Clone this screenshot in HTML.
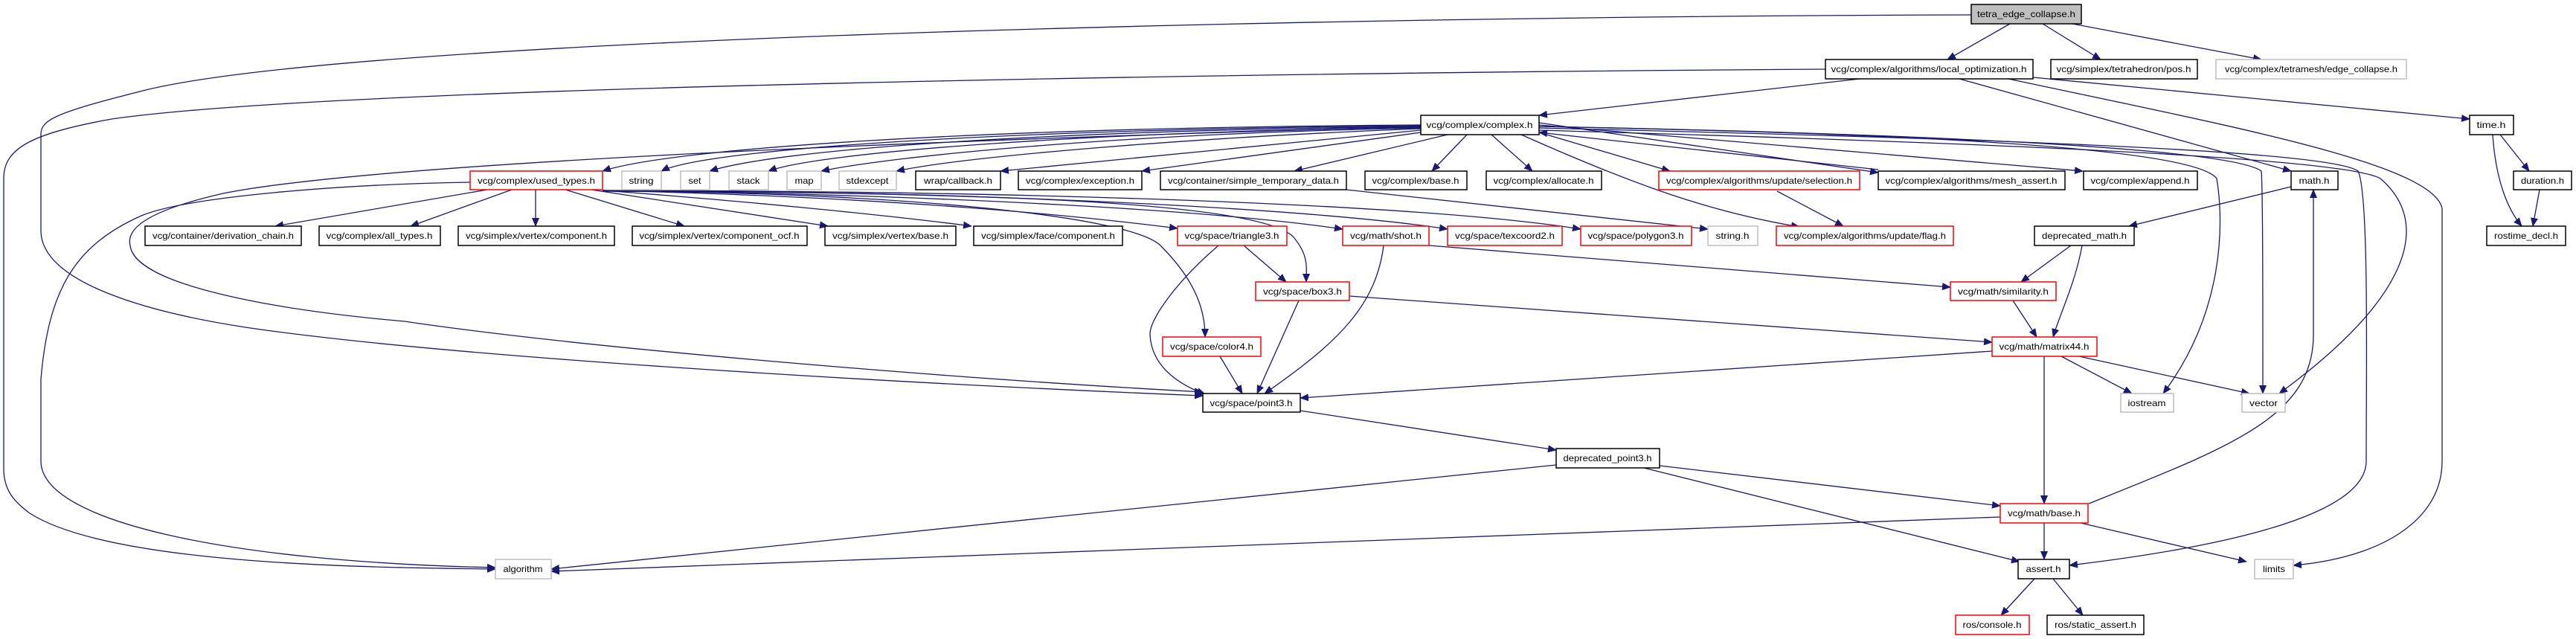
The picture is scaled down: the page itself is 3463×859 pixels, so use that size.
<!DOCTYPE html>
<html><head><meta charset="utf-8"><style>
html,body{margin:0;padding:0;background:#fff;}
svg{display:block;}
text{font-family:"Liberation Sans",sans-serif;font-size:12px;fill:#000;}
</style></head><body>
<svg width="3463" height="859" viewBox="0 0 3463 859" xmlns="http://www.w3.org/2000/svg">
<defs>
<marker id="a" markerUnits="userSpaceOnUse" markerWidth="12" markerHeight="10" refX="11" refY="5" orient="auto">
<path d="M0,0 L12,5 L0,10 z" fill="#191970"/>
</marker>
</defs>
<g fill="none" stroke="#191970" stroke-width="1.3" marker-end="url(#a)">
<path d="M2702,32 L2618,80"/>
<path d="M2746,32 L2824,80"/>
<path d="M2786,32 L3040,80"/>
<path d="M2650,20 C1800,22 500,50 200,120 C80,150 55,160 55,180 L55,310 C55,380 200,420 330,440 C600,480 1200,515 1617,532"/>
<path d="M2454,93 C2000,96 500,110 150,160 C40,180 5,200 5,240 L5,630 C5,660 20,675 40,690 C150,760 500,763 666,765"/>
<path d="M632,245 C450,248 250,265 190,290 C100,330 65,390 55,510 L55,620 C55,700 300,755 666,763"/>
<path d="M1910,170 C1200,190 500,220 300,260 C190,285 170,310 175,330 C180,380 350,415 544,432 C800,470 1300,510 1617,527"/>
<path d="M810,257 C1200,258 1520,290 1560,330 C1610,380 1620,420 1620,453"/>
<path d="M810,257 C1300,258 1700,270 1740,320 C1760,345 1756,360 1756,379"/>
<path d="M1638,330 C1580,380 1545,430 1546,450 C1548,490 1580,515 1620,530"/>
<path d="M1672,330 L1729,379"/>
<path d="M1746,404 L1690,529"/>
<path d="M1860,330 C1850,410 1800,460 1700,529"/>
<path d="M1640,479 L1670,529"/>
<path d="M2678,472 L1748,535"/>
<path d="M1748,552 L2092,605"/>
<path d="M2092,625 L741,765"/>
<path d="M2689,695 L741,768"/>
<path d="M2231,626 L2689,680"/>
<path d="M2210,629 L2715,755"/>
<path d="M1814,398 L2678,460"/>
<path d="M1921,330 L2622,386"/>
<path d="M2706,404 L2738,453"/>
<path d="M2784,330 L2717,379"/>
<path d="M2799,330 C2790,380 2770,420 2760,453"/>
<path d="M3080,251 L2862,304"/>
<path d="M2808,677 C3000,600 3110,560 3110,450 L3110,255"/>
<path d="M2748,479 L2748,677"/>
<path d="M2771,479 L2866,529"/>
<path d="M2795,479 L3024,529"/>
<path d="M2069,170 C2600,180 2950,200 2980,240 C2990,300 2990,420 2908,529"/>
<path d="M2069,170 C2600,180 3000,200 3040,230 C3042,260 3042,400 3042,529"/>
<path d="M2069,172 C2600,185 3130,200 3170,230 C3185,260 3181,500 3181,620 C3181,700 2950,740 2782,760"/>
<path d="M2700,106 C3000,170 3270,220 3283,280 L3283,620 C3283,700 3200,750 3083,760"/>
<path d="M2069,175 C2600,190 3150,210 3200,240 C3270,300 3240,400 3064,529"/>
<path d="M2500,106 L2069,155"/>
<path d="M2634,106 L3080,230"/>
<path d="M2733,104 L3320,160"/>
<path d="M3361,181 L3400,230"/>
<path d="M3351,181 C3355,240 3370,280 3390,304"/>
<path d="M3414,255 L3405,304"/>
<path d="M2735,778 L2690,827"/>
<path d="M2760,778 L2800,827"/>
<path d="M2748,703 L2748,752"/>
<path d="M2797,703 L3020,755"/>
<path d="M2389,257 L2478,304"/>
<path d="M2045,181 C2200,250 2300,285 2419,305"/>
<path d="M1810,255 L2296,308"/>
<path d="M655,255 L370,304"/>
<path d="M688,255 L552,304"/>
<path d="M720,255 L720,304"/>
<path d="M760,255 L920,304"/>
<path d="M795,255 L1113,304"/>
<path d="M810,256 C1000,270 1200,290 1306,304"/>
<path d="M810,256 C1200,265 1450,290 1583,307"/>
<path d="M810,256 C1300,262 1650,285 1805,308"/>
<path d="M810,256 C1400,258 1800,285 1946,308"/>
<path d="M810,256 C1500,257 1950,280 2125,308"/>
<path d="M2069,165 L2525,232"/>
<path d="M2525,228 L2069,178"/>
<path d="M2069,168 L2800,230"/>
<path d="M2069,178 L2245,230"/>
<path d="M2005,181 L2060,230"/>
<path d="M1972,181 L1925,230"/>
<path d="M1946,181 L1740,230"/>
<path d="M1910,178 L1535,230"/>
<path d="M1910,175 L1345,230"/>
<path d="M1910,173 C1600,185 1300,210 1205,230"/>
<path d="M1910,172 C1500,180 1200,210 1104,230"/>
<path d="M1910,171 C1450,178 1100,205 1033,230"/>
<path d="M1910,170 C1400,176 1050,200 954,230"/>
<path d="M1910,169 C1350,174 950,200 889,230"/>
<path d="M1910,168 C1300,172 900,200 810,230"/>
</g>
<g stroke-width="1.5">
<!-- nodes: rect + text -->
<rect x="2650" y="6" width="148" height="26" fill="#bfbfbf" stroke="#000"/><text x="2724" y="23" text-anchor="middle" textLength="132" lengthAdjust="spacingAndGlyphs">tetra_edge_collapse.h</text>
<rect x="2454" y="80" width="279" height="26" fill="#fff" stroke="#000"/><text x="2593" y="97" text-anchor="middle" textLength="263" lengthAdjust="spacingAndGlyphs">vcg/complex/algorithms/local_optimization.h</text>
<rect x="2757" y="80" width="197" height="26" fill="#fff" stroke="#000"/><text x="2855" y="97" text-anchor="middle" textLength="181" lengthAdjust="spacingAndGlyphs">vcg/simplex/tetrahedron/pos.h</text>
<rect x="2979" y="80" width="256" height="26" fill="#fff" stroke="#bfbfbf"/><text x="3107" y="97" text-anchor="middle" textLength="232" lengthAdjust="spacingAndGlyphs">vcg/complex/tetramesh/edge_collapse.h</text>
<rect x="1910" y="155" width="159" height="26" fill="#fff" stroke="#000"/><text x="1989" y="172" text-anchor="middle" textLength="143" lengthAdjust="spacingAndGlyphs">vcg/complex/complex.h</text>
<rect x="3320" y="155" width="59" height="26" fill="#fff" stroke="#000"/><text x="3349" y="172" text-anchor="middle" textLength="39" lengthAdjust="spacingAndGlyphs">time.h</text>

<rect x="632" y="230" width="178" height="25" fill="#fff" stroke="#f00"/><text x="721" y="247" text-anchor="middle" textLength="158" lengthAdjust="spacingAndGlyphs">vcg/complex/used_types.h</text>
<rect x="836" y="230" width="53" height="25" fill="#fff" stroke="#bfbfbf"/><text x="862" y="247" text-anchor="middle" textLength="33" lengthAdjust="spacingAndGlyphs">string</text>
<rect x="915" y="230" width="39" height="25" fill="#fff" stroke="#bfbfbf"/><text x="934" y="247" text-anchor="middle" textLength="17" lengthAdjust="spacingAndGlyphs">set</text>
<rect x="980" y="230" width="53" height="25" fill="#fff" stroke="#bfbfbf"/><text x="1006" y="247" text-anchor="middle" textLength="31" lengthAdjust="spacingAndGlyphs">stack</text>
<rect x="1058" y="230" width="46" height="25" fill="#fff" stroke="#bfbfbf"/><text x="1081" y="247" text-anchor="middle" textLength="25" lengthAdjust="spacingAndGlyphs">map</text>
<rect x="1128" y="230" width="77" height="25" fill="#fff" stroke="#bfbfbf"/><text x="1166" y="247" text-anchor="middle" textLength="57" lengthAdjust="spacingAndGlyphs">stdexcept</text>
<rect x="1231" y="230" width="114" height="25" fill="#fff" stroke="#000"/><text x="1288" y="247" text-anchor="middle" textLength="92" lengthAdjust="spacingAndGlyphs">wrap/callback.h</text>
<rect x="1369" y="230" width="166" height="25" fill="#fff" stroke="#000"/><text x="1452" y="247" text-anchor="middle" textLength="146" lengthAdjust="spacingAndGlyphs">vcg/complex/exception.h</text>
<rect x="1560" y="230" width="250" height="25" fill="#fff" stroke="#000"/><text x="1685" y="247" text-anchor="middle" textLength="230" lengthAdjust="spacingAndGlyphs">vcg/container/simple_temporary_data.h</text>
<rect x="1835" y="230" width="137" height="25" fill="#fff" stroke="#000"/><text x="1903" y="247" text-anchor="middle" textLength="117" lengthAdjust="spacingAndGlyphs">vcg/complex/base.h</text>
<rect x="1998" y="230" width="155" height="25" fill="#fff" stroke="#000"/><text x="2075" y="247" text-anchor="middle" textLength="135" lengthAdjust="spacingAndGlyphs">vcg/complex/allocate.h</text>
<rect x="2230" y="230" width="270" height="25" fill="#fff" stroke="#f00"/><text x="2365" y="247" text-anchor="middle" textLength="250" lengthAdjust="spacingAndGlyphs">vcg/complex/algorithms/update/selection.h</text>
<rect x="2525" y="230" width="251" height="25" fill="#fff" stroke="#000"/><text x="2650" y="247" text-anchor="middle" textLength="231" lengthAdjust="spacingAndGlyphs">vcg/complex/algorithms/mesh_assert.h</text>
<rect x="2801" y="230" width="153" height="25" fill="#fff" stroke="#000"/><text x="2877" y="247" text-anchor="middle" textLength="133" lengthAdjust="spacingAndGlyphs">vcg/complex/append.h</text>
<rect x="3080" y="230" width="63" height="25" fill="#fff" stroke="#000"/><text x="3111" y="247" text-anchor="middle" textLength="41" lengthAdjust="spacingAndGlyphs">math.h</text>
<rect x="3379" y="230" width="78" height="25" fill="#fff" stroke="#000"/><text x="3418" y="247" text-anchor="middle" textLength="58" lengthAdjust="spacingAndGlyphs">duration.h</text>

<rect x="195" y="304" width="210" height="26" fill="#fff" stroke="#000"/><text x="300" y="321" text-anchor="middle" textLength="190" lengthAdjust="spacingAndGlyphs">vcg/container/derivation_chain.h</text>
<rect x="429" y="304" width="163" height="26" fill="#fff" stroke="#000"/><text x="510" y="321" text-anchor="middle" textLength="143" lengthAdjust="spacingAndGlyphs">vcg/complex/all_types.h</text>
<rect x="616" y="304" width="210" height="26" fill="#fff" stroke="#000"/><text x="721" y="321" text-anchor="middle" textLength="190" lengthAdjust="spacingAndGlyphs">vcg/simplex/vertex/component.h</text>
<rect x="850" y="304" width="235" height="26" fill="#fff" stroke="#000"/><text x="967" y="321" text-anchor="middle" textLength="215" lengthAdjust="spacingAndGlyphs">vcg/simplex/vertex/component_ocf.h</text>
<rect x="1109" y="304" width="176" height="26" fill="#fff" stroke="#000"/><text x="1197" y="321" text-anchor="middle" textLength="156" lengthAdjust="spacingAndGlyphs">vcg/simplex/vertex/base.h</text>
<rect x="1309" y="304" width="200" height="26" fill="#fff" stroke="#000"/><text x="1409" y="321" text-anchor="middle" textLength="180" lengthAdjust="spacingAndGlyphs">vcg/simplex/face/component.h</text>
<rect x="1583" y="304" width="147" height="26" fill="#fff" stroke="#f00"/><text x="1656" y="321" text-anchor="middle" textLength="127" lengthAdjust="spacingAndGlyphs">vcg/space/triangle3.h</text>
<rect x="1805" y="304" width="116" height="26" fill="#fff" stroke="#f00"/><text x="1863" y="321" text-anchor="middle" textLength="96" lengthAdjust="spacingAndGlyphs">vcg/math/shot.h</text>
<rect x="1946" y="304" width="154" height="26" fill="#fff" stroke="#f00"/><text x="2023" y="321" text-anchor="middle" textLength="134" lengthAdjust="spacingAndGlyphs">vcg/space/texcoord2.h</text>
<rect x="2125" y="304" width="149" height="26" fill="#fff" stroke="#f00"/><text x="2199" y="321" text-anchor="middle" textLength="129" lengthAdjust="spacingAndGlyphs">vcg/space/polygon3.h</text>
<rect x="2296" y="304" width="67" height="26" fill="#fff" stroke="#bfbfbf"/><text x="2329" y="321" text-anchor="middle" textLength="45" lengthAdjust="spacingAndGlyphs">string.h</text>
<rect x="2388" y="304" width="238" height="26" fill="#fff" stroke="#f00"/><text x="2507" y="321" text-anchor="middle" textLength="218" lengthAdjust="spacingAndGlyphs">vcg/complex/algorithms/update/flag.h</text>
<rect x="2735" y="304" width="134" height="26" fill="#fff" stroke="#000"/><text x="2802" y="321" text-anchor="middle" textLength="114" lengthAdjust="spacingAndGlyphs">deprecated_math.h</text>
<rect x="3343" y="304" width="106" height="26" fill="#fff" stroke="#000"/><text x="3396" y="321" text-anchor="middle" textLength="86" lengthAdjust="spacingAndGlyphs">rostime_decl.h</text>

<rect x="1688" y="379" width="126" height="25" fill="#fff" stroke="#f00"/><text x="1751" y="396" text-anchor="middle" textLength="106" lengthAdjust="spacingAndGlyphs">vcg/space/box3.h</text>
<rect x="2622" y="379" width="142" height="25" fill="#fff" stroke="#f00"/><text x="2693" y="396" text-anchor="middle" textLength="122" lengthAdjust="spacingAndGlyphs">vcg/math/similarity.h</text>
<rect x="1563" y="453" width="132" height="26" fill="#fff" stroke="#f00"/><text x="1629" y="470" text-anchor="middle" textLength="112" lengthAdjust="spacingAndGlyphs">vcg/space/color4.h</text>
<rect x="2678" y="453" width="141" height="26" fill="#fff" stroke="#f00"/><text x="2748" y="470" text-anchor="middle" textLength="121" lengthAdjust="spacingAndGlyphs">vcg/math/matrix44.h</text>
<rect x="1617" y="529" width="131" height="25" fill="#fff" stroke="#000"/><text x="1682" y="546" text-anchor="middle" textLength="111" lengthAdjust="spacingAndGlyphs">vcg/space/point3.h</text>
<rect x="2851" y="529" width="71" height="25" fill="#fff" stroke="#bfbfbf"/><text x="2886" y="546" text-anchor="middle" textLength="51" lengthAdjust="spacingAndGlyphs">iostream</text>
<rect x="3014" y="529" width="58" height="25" fill="#fff" stroke="#bfbfbf"/><text x="3043" y="546" text-anchor="middle" textLength="38" lengthAdjust="spacingAndGlyphs">vector</text>
<rect x="2092" y="603" width="139" height="26" fill="#fff" stroke="#000"/><text x="2161" y="620" text-anchor="middle" textLength="119" lengthAdjust="spacingAndGlyphs">deprecated_point3.h</text>
<rect x="2689" y="677" width="118" height="26" fill="#fff" stroke="#f00"/><text x="2748" y="694" text-anchor="middle" textLength="98" lengthAdjust="spacingAndGlyphs">vcg/math/base.h</text>
<rect x="666" y="752" width="75" height="26" fill="#fff" stroke="#bfbfbf"/><text x="703" y="769" text-anchor="middle" textLength="53" lengthAdjust="spacingAndGlyphs">algorithm</text>
<rect x="2713" y="752" width="69" height="26" fill="#fff" stroke="#000"/><text x="2747" y="769" text-anchor="middle" textLength="47" lengthAdjust="spacingAndGlyphs">assert.h</text>
<rect x="3031" y="752" width="52" height="26" fill="#fff" stroke="#bfbfbf"/><text x="3057" y="769" text-anchor="middle" textLength="30" lengthAdjust="spacingAndGlyphs">limits</text>
<rect x="2629" y="827" width="99" height="26" fill="#fff" stroke="#f00"/><text x="2678" y="844" text-anchor="middle" textLength="79" lengthAdjust="spacingAndGlyphs">ros/console.h</text>
<rect x="2752" y="827" width="130" height="26" fill="#fff" stroke="#000"/><text x="2817" y="844" text-anchor="middle" textLength="110" lengthAdjust="spacingAndGlyphs">ros/static_assert.h</text>
</g>
</svg>
</body></html>
